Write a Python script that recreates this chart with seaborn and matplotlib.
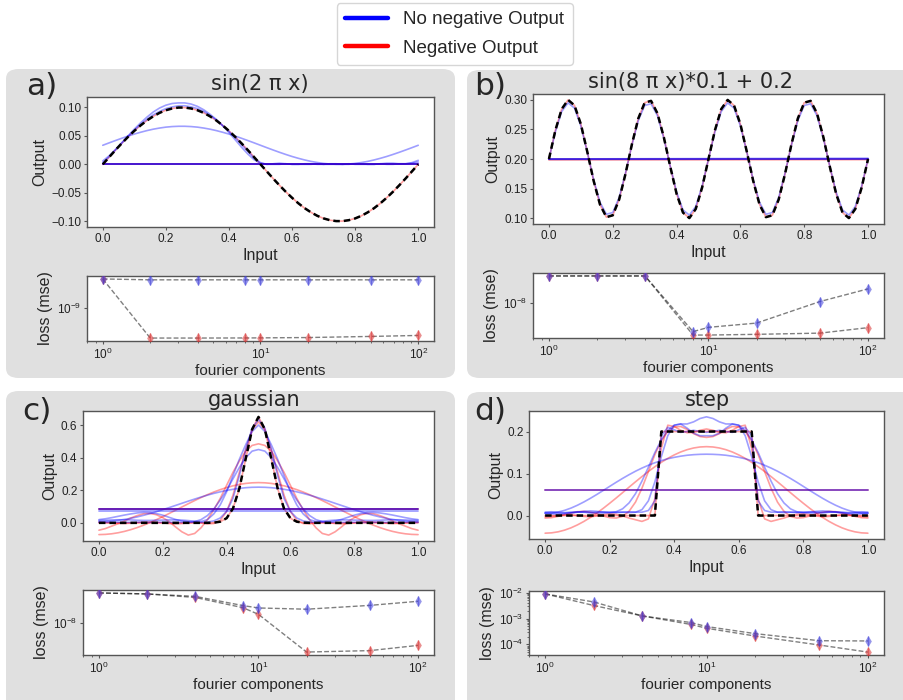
import numpy as np
import matplotlib
matplotlib.use("Agg")
import matplotlib.pyplot as plt
import seaborn as sns
from matplotlib.patches import FancyBboxPatch
from matplotlib.lines import Line2D
from matplotlib.ticker import NullLocator

# ---------------- data ----------------
x_grid = np.linspace(0, 1, 51)
x_flat = [0.0, 1.0]
components = [1, 2, 4, 8, 10, 20, 50, 100]

# panel a: sin(2 pi x)
a_target = [0.0, 0.0125, 0.0249, 0.0368, 0.0482, 0.0588, 0.0685, 0.0771, 0.0844, 0.0905, 0.0951, 0.0982, 0.0998,
            0.0998, 0.0982, 0.0951, 0.0905, 0.0844, 0.0771, 0.0685, 0.0588, 0.0482, 0.0368, 0.0249, 0.0125, 0.0,
            -0.0125, -0.0249, -0.0368, -0.0482, -0.0588, -0.0685, -0.0771, -0.0844, -0.0905, -0.0951, -0.0982, -0.0998,
            -0.0998, -0.0982, -0.0951, -0.0905, -0.0844, -0.0771, -0.0685, -0.0588, -0.0482, -0.0368, -0.0249, -0.0125, 0.0]
a_blue_k2 = [0.0335, 0.0377, 0.0418, 0.0458, 0.0496, 0.0532, 0.0564, 0.0593, 0.0618, 0.0638, 0.0654, 0.0664, 0.0669,
             0.0669, 0.0664, 0.0654, 0.0638, 0.0618, 0.0593, 0.0564, 0.0532, 0.0496, 0.0458, 0.0418, 0.0377, 0.0335,
             0.0293, 0.0252, 0.0212, 0.0174, 0.0138, 0.0106, 0.0077, 0.0052, 0.0032, 0.0016, 0.0006, 0.0001,
             0.0001, 0.0006, 0.0016, 0.0032, 0.0052, 0.0077, 0.0106, 0.0138, 0.0174, 0.0212, 0.0252, 0.0293, 0.0335]
a_blue_k8 = [0.006, 0.015, 0.026, 0.038, 0.050, 0.062, 0.073, 0.083, 0.092, 0.099, 0.104, 0.107, 0.108,
             0.108, 0.106, 0.102, 0.096, 0.088, 0.079, 0.068, 0.056, 0.043, 0.030, 0.018, 0.008, 0.002,
             0.0, 0.001, 0.002, 0.001, 0.0, 0.0, 0.001, 0.001, 0.0, 0.0, 0.001, 0.001, 0.0,
             0.0, 0.001, 0.001, 0.0, 0.0, 0.001, 0.002, 0.002, 0.001, 0.001, 0.003, 0.007]
a_blue_k16 = [0.003, 0.013, 0.025, 0.037, 0.049, 0.060, 0.070, 0.079, 0.087, 0.093, 0.098, 0.101, 0.103,
              0.103, 0.101, 0.098, 0.093, 0.086, 0.078, 0.068, 0.058, 0.047, 0.035, 0.023, 0.011, 0.003,
              0.0, 0.0, 0.0, 0.001, 0.0, 0.0, 0.0, 0.0, 0.001, 0.0, 0.0, 0.0, 0.0,
              0.001, 0.0, 0.0, 0.0, 0.0, 0.001, 0.0, 0.0, 0.001, 0.001, 0.002, 0.004]
a_blue_flat = [0.0, 0.0]
a_red_flat = [0.0, 0.0]

# panel b: sin(8 pi x)*0.1 + 0.2
b_target = [0.2, 0.2482, 0.2844, 0.2998, 0.2905, 0.2588, 0.2125, 0.1632, 0.1230, 0.1018, 0.1049, 0.1316, 0.1751,
            0.2249, 0.2685, 0.2951, 0.2982, 0.2771, 0.2368, 0.1875, 0.1412, 0.1095, 0.1002, 0.1156, 0.1518, 0.2,
            0.2482, 0.2844, 0.2998, 0.2905, 0.2588, 0.2125, 0.1632, 0.1230, 0.1018, 0.1049, 0.1316, 0.1751,
            0.2249, 0.2685, 0.2951, 0.2982, 0.2771, 0.2368, 0.1875, 0.1412, 0.1095, 0.1002, 0.1156, 0.1518, 0.2]
b_blue_k8 = [0.2, 0.2458, 0.2802, 0.2948, 0.2860, 0.2558, 0.2119, 0.1650, 0.1268, 0.1067, 0.1096, 0.1350, 0.1764,
             0.2236, 0.2650, 0.2904, 0.2933, 0.2732, 0.2350, 0.1881, 0.1442, 0.1140, 0.1052, 0.1198, 0.1542, 0.2,
             0.2458, 0.2802, 0.2948, 0.2860, 0.2558, 0.2119, 0.1650, 0.1268, 0.1067, 0.1096, 0.1350, 0.1764,
             0.2236, 0.2650, 0.2904, 0.2933, 0.2732, 0.2350, 0.1881, 0.1442, 0.1140, 0.1052, 0.1198, 0.1542, 0.2]
b_blue_flat1 = [0.2005, 0.2005]
b_blue_flat2 = [0.2000, 0.2012]
b_blue_flat3 = [0.1995, 0.2000]
b_red_flat1 = [0.1985, 0.1990]
b_red_flat2 = [0.2000, 0.2000]

# panel c: gaussian
c_target = [0.0, 0.0, 0.0, 0.0, 0.0, 0.0, 0.0, 0.0, 0.0, 0.0, 0.0, 0.0, 0.0, 0.0, 0.0, 0.0, 0.0,
            0.0002, 0.0014, 0.0072, 0.0285, 0.0880, 0.2110, 0.3943, 0.5736, 0.65, 0.5736, 0.3943, 0.2110,
            0.0880, 0.0285, 0.0072, 0.0014, 0.0002,
            0.0, 0.0, 0.0, 0.0, 0.0, 0.0, 0.0, 0.0, 0.0, 0.0, 0.0, 0.0, 0.0, 0.0, 0.0, 0.0, 0.0]
c_red_k2 = [-0.0720, -0.0707, -0.0670, -0.0608, -0.0523, -0.0415, -0.0288, -0.0142, 0.0020, 0.0196, 0.0382, 0.0576,
            0.0775, 0.0975, 0.1174, 0.1368, 0.1554, 0.1730, 0.1892, 0.2038, 0.2165, 0.2273, 0.2358, 0.2420, 0.2457,
            0.2470,
            0.2457, 0.2420, 0.2358, 0.2273, 0.2165, 0.2038, 0.1892, 0.1730, 0.1554, 0.1368, 0.1174, 0.0975, 0.0775,
            0.0576, 0.0382, 0.0196, 0.0020, -0.0142, -0.0288, -0.0415, -0.0523, -0.0608, -0.0670, -0.0707, -0.0720]
c_blue_k2 = [0.0080, 0.0088, 0.0113, 0.0154, 0.0211, 0.0282, 0.0366, 0.0463, 0.0570, 0.0686, 0.0809, 0.0937,
             0.1069, 0.1201, 0.1333, 0.1461, 0.1584, 0.1700, 0.1807, 0.1904, 0.1988, 0.2059, 0.2116, 0.2157, 0.2182,
             0.2190,
             0.2182, 0.2157, 0.2116, 0.2059, 0.1988, 0.1904, 0.1807, 0.1700, 0.1584, 0.1461, 0.1333, 0.1201, 0.1069,
             0.0937, 0.0809, 0.0686, 0.0570, 0.0463, 0.0366, 0.0282, 0.0211, 0.0154, 0.0113, 0.0088, 0.0080]
c_red_k4 = [-0.045, -0.035, -0.020, -0.005, 0.012, 0.030, 0.045, 0.056, 0.058, 0.050, 0.032, 0.008, -0.025,
            -0.055, -0.075, -0.065, -0.030, 0.020, 0.080, 0.150, 0.230, 0.310, 0.380, 0.440, 0.475, 0.485,
            0.475, 0.440, 0.380, 0.310, 0.230, 0.150, 0.080, 0.020, -0.030, -0.065, -0.075, -0.055, -0.025,
            0.008, 0.032, 0.050, 0.058, 0.056, 0.045, 0.030, 0.012, -0.005, -0.020, -0.035, -0.045]
c_blue_k4 = [0.020, 0.025, 0.032, 0.040, 0.048, 0.055, 0.061, 0.064, 0.063, 0.057, 0.047, 0.034, 0.021,
             0.011, 0.006, 0.008, 0.020, 0.045, 0.085, 0.140, 0.200, 0.270, 0.340, 0.400, 0.440, 0.450,
             0.440, 0.400, 0.340, 0.270, 0.200, 0.140, 0.085, 0.045, 0.020, 0.008, 0.006, 0.011, 0.021,
             0.034, 0.047, 0.057, 0.063, 0.064, 0.061, 0.055, 0.048, 0.040, 0.032, 0.025, 0.020]
c_red_k8 = [0.004, 0.003, 0.000, -0.003, -0.004, -0.002, 0.002, 0.005, 0.006, 0.004, 0.000, -0.004, -0.006,
            -0.004, 0.000, 0.003, 0.000, -0.006, -0.004, 0.015, 0.070, 0.170, 0.310, 0.450, 0.570, 0.620,
            0.570, 0.450, 0.310, 0.170, 0.070, 0.015, -0.004, -0.006, 0.000, 0.003, 0.000, -0.004, -0.006,
            -0.004, 0.000, 0.004, 0.006, 0.005, 0.002, -0.002, -0.004, -0.003, 0.000, 0.003, 0.004]
c_blue_k8 = [0.015, 0.016, 0.018, 0.019, 0.019, 0.018, 0.016, 0.015, 0.015, 0.016, 0.017, 0.018, 0.018,
             0.017, 0.014, 0.010, 0.008, 0.020, 0.055, 0.110, 0.190, 0.290, 0.390, 0.480, 0.560, 0.600,
             0.560, 0.480, 0.390, 0.290, 0.190, 0.110, 0.055, 0.020, 0.008, 0.010, 0.014, 0.017, 0.018,
             0.018, 0.017, 0.016, 0.015, 0.015, 0.016, 0.018, 0.019, 0.019, 0.018, 0.016, 0.015]
c_blue_k16 = [0.003, 0.003, 0.004, 0.004, 0.003, 0.003, 0.004, 0.004, 0.003, 0.003, 0.004, 0.004, 0.003,
              0.003, 0.004, 0.004, 0.003, 0.005, 0.012, 0.030, 0.070, 0.150, 0.290, 0.450, 0.580, 0.635,
              0.580, 0.450, 0.290, 0.150, 0.070, 0.030, 0.012, 0.005, 0.003, 0.004, 0.004, 0.003, 0.003,
              0.004, 0.004, 0.003, 0.003, 0.004, 0.004, 0.003, 0.003, 0.004, 0.004, 0.003, 0.003]
c_blue_flat1 = [0.085, 0.085]
c_blue_flat2 = [0.073, 0.073]
c_red_flat = [0.085, 0.085]

# panel d: step
d_target = [0.0] * 18 + [0.2] * 15 + [0.0] * 18
d_red_k2 = [-0.0420, -0.0412, -0.0388, -0.0348, -0.0293, -0.0223, -0.0141, -0.0047, 0.0058, 0.0171, 0.0292, 0.0417,
            0.0545, 0.0675, 0.0803, 0.0928, 0.1049, 0.1162, 0.1267, 0.1361, 0.1443, 0.1513, 0.1568, 0.1608, 0.1632,
            0.1640,
            0.1632, 0.1608, 0.1568, 0.1513, 0.1443, 0.1361, 0.1267, 0.1162, 0.1049, 0.0928, 0.0803, 0.0675, 0.0545,
            0.0417, 0.0292, 0.0171, 0.0058, -0.0047, -0.0141, -0.0223, -0.0293, -0.0348, -0.0388, -0.0412, -0.0420]
d_blue_k2 = [0.0050, 0.0059, 0.0083, 0.0123, 0.0177, 0.0245, 0.0323, 0.0409, 0.0501, 0.0597, 0.0694, 0.0791,
             0.0884, 0.0972, 0.1055, 0.1130, 0.1197, 0.1257, 0.1307, 0.1351, 0.1385, 0.1413, 0.1435, 0.1449, 0.1457,
             0.1460,
             0.1457, 0.1449, 0.1435, 0.1413, 0.1385, 0.1351, 0.1307, 0.1257, 0.1197, 0.1130, 0.1055, 0.0972, 0.0884,
             0.0791, 0.0694, 0.0597, 0.0501, 0.0409, 0.0323, 0.0245, 0.0177, 0.0123, 0.0083, 0.0059, 0.0050]
d_blue_k4 = [0.005, 0.004, 0.003, 0.004, 0.006, 0.008, 0.010, 0.011, 0.010, 0.008, 0.007, 0.009, 0.016,
             0.030, 0.052, 0.082, 0.115, 0.150, 0.180, 0.203, 0.215, 0.218, 0.218, 0.223, 0.231, 0.235,
             0.231, 0.223, 0.218, 0.218, 0.215, 0.203, 0.180, 0.150, 0.115, 0.082, 0.052, 0.030, 0.016,
             0.009, 0.007, 0.008, 0.010, 0.011, 0.010, 0.008, 0.006, 0.004, 0.003, 0.004, 0.005]
d_red_k4 = [-0.006, -0.005, -0.002, 0.002, 0.006, 0.009, 0.010, 0.008, 0.004, -0.001, -0.005, -0.006, -0.002,
            0.010, 0.032, 0.065, 0.105, 0.145, 0.178, 0.200, 0.211, 0.212, 0.205, 0.195, 0.188, 0.186,
            0.188, 0.195, 0.205, 0.212, 0.211, 0.200, 0.178, 0.145, 0.105, 0.065, 0.032, 0.010, -0.002,
            -0.006, -0.005, -0.001, 0.004, 0.008, 0.010, 0.009, 0.006, 0.002, -0.002, -0.005, -0.006]
d_blue_k8 = [0.007, 0.007, 0.006, 0.006, 0.007, 0.008, 0.008, 0.007, 0.006, 0.006, 0.007, 0.008, 0.008,
             0.007, 0.008, 0.014, 0.035, 0.080, 0.140, 0.190, 0.215, 0.218, 0.208, 0.196, 0.190, 0.190,
             0.190, 0.196, 0.208, 0.218, 0.215, 0.190, 0.140, 0.080, 0.035, 0.014, 0.008, 0.007, 0.008,
             0.008, 0.007, 0.006, 0.006, 0.007, 0.008, 0.008, 0.007, 0.006, 0.006, 0.007, 0.007]
d_red_k8 = [-0.003, -0.002, 0.000, 0.002, 0.002, 0.000, -0.002, -0.003, -0.001, 0.002, 0.004, 0.003, -0.001,
            -0.006, -0.010, -0.014, -0.008, 0.040, 0.160, 0.215, 0.212, 0.203, 0.197, 0.198, 0.203, 0.206,
            0.203, 0.198, 0.197, 0.203, 0.212, 0.215, 0.160, 0.040, -0.008, -0.014, -0.010, -0.006, -0.001,
            0.003, 0.004, 0.002, -0.001, -0.003, -0.002, 0.000, 0.002, 0.002, 0.000, -0.002, -0.003]
d_blue_k16 = [0.008, 0.009, 0.008, 0.007, 0.008, 0.009, 0.008, 0.007, 0.008, 0.009, 0.008, 0.007, 0.008,
              0.009, 0.008, 0.008, 0.012, 0.035, 0.190, 0.210, 0.204, 0.198, 0.200, 0.203, 0.200, 0.198,
              0.200, 0.203, 0.200, 0.198, 0.204, 0.210, 0.190, 0.035, 0.012, 0.008, 0.008, 0.009, 0.008,
              0.007, 0.008, 0.009, 0.008, 0.007, 0.008, 0.009, 0.008, 0.007, 0.008, 0.009, 0.008]
d_blue_flat = [0.06, 0.06]
d_red_flat = [0.06, 0.06]

# losses (mse) vs number of fourier components
a_loss_blue = [1.97e-9, 1.93e-9, 1.93e-9, 1.93e-9, 1.93e-9, 1.93e-9, 1.93e-9, 1.93e-9]
a_loss_red = [1.97e-9, 4.96e-10, 4.96e-10, 4.97e-10, 4.98e-10, 5.02e-10, 5.15e-10, 5.27e-10]
b_loss_blue = [1.97e-8, 1.97e-8, 1.97e-8, 4.8e-9, 5.35e-9, 5.96e-9, 1.03e-8, 1.42e-8]
b_loss_red = [1.97e-8, 1.97e-8, 1.97e-8, 4.4e-9, 4.4e-9, 4.48e-9, 4.62e-9, 5.31e-9]
c_loss_blue = [2.26e-8, 2.2e-8, 2.06e-8, 1.6e-8, 1.5e-8, 1.45e-8, 1.61e-8, 1.8e-8]
c_loss_red = [2.26e-8, 2.2e-8, 2.0e-8, 1.51e-8, 1.26e-8, 4.5e-9, 4.68e-9, 5.4e-9]
d_loss_blue = [9.0e-3, 4.4e-3, 1.26e-3, 7.0e-4, 4.9e-4, 2.6e-4, 1.38e-4, 1.35e-4]
d_loss_red = [9.0e-3, 3.2e-3, 1.26e-3, 5.9e-4, 4.2e-4, 2.1e-4, 9.4e-5, 5.0e-5]

panel_letters = ["a)", "b)", "c)", "d)"]
panel_titles = ["sin(2 π x)", "sin(8 π x)*0.1 + 0.2", "gaussian", "step"]
legend_labels = ["No negative Output", "Negative Output"]

# ---------------- style ----------------
sns.set_style("ticks")
plt.rcParams.update({
    "font.family": ["Liberation Sans", "DejaVu Sans"],
    "mathtext.fontset": "custom",
    "mathtext.rm": "Liberation Sans",
    "mathtext.it": "Liberation Sans:italic",
    "mathtext.bf": "Liberation Sans:bold",
    "axes.edgecolor": "#555555",
    "axes.linewidth": 1.0,
    "xtick.color": "#555555",
    "ytick.color": "#555555",
    "xtick.labelcolor": "#222222",
    "ytick.labelcolor": "#222222",
    "xtick.labelsize": 8.5,
    "ytick.labelsize": 8.5,
    "xtick.major.size": 2.5,
    "ytick.major.size": 2.5,
    "xtick.minor.size": 1.5,
    "ytick.minor.size": 1.5,
    "xtick.major.pad": 2.0,
    "ytick.major.pad": 1.5,
})

W, H = 904, 700
fig = plt.figure(figsize=(W / 100, H / 100), dpi=100)


def fbox(x0, y0, x1, y1):
    return [x0 / W, 1 - y1 / H, (x1 - x0) / W, (y1 - y0) / H]


# gray panel backgrounds
for (x0, y0, x1, y1) in [(6, 69, 455, 378), (467, 70, 915, 378), (6, 391, 455, 712), (467, 392, 915, 712)]:
    p = FancyBboxPatch((x0 / W, 1 - y1 / H), (x1 - x0) / W, (y1 - y0) / H,
                       boxstyle="round,pad=0,rounding_size=0.014", transform=fig.transFigure,
                       facecolor="#e0e0e0", edgecolor="none", zorder=-5)
    fig.patches.append(p)

main_boxes = [(87, 97, 434, 227), (533, 94, 884, 224), (83, 411, 434, 541), (529, 411, 884, 539)]
loss_boxes = [(87, 276, 434, 341), (533, 273, 884, 338), (83, 590, 434, 655), (529, 591, 884, 655)]

BLUE = (0, 0, 1)
RED = (1, 0, 0)
FA = 0.38      # fit alpha
FIT_LW = 1.2

# flats: (values, colour, alpha)
main_specs = [
    dict(target=a_target, reds=[a_target], blues=[a_blue_k2, a_blue_k8, a_blue_k16],
         flats=[(a_red_flat, RED, 0.7), (a_blue_flat, BLUE, 0.6), (a_blue_flat, BLUE, 0.4)]),
    dict(target=b_target, reds=[b_target], blues=[b_blue_k8],
         flats=[(b_red_flat1, RED, FA), (b_red_flat2, RED, FA), (b_blue_flat1, BLUE, FA),
                (b_blue_flat2, BLUE, FA), (b_blue_flat3, BLUE, FA)]),
    dict(target=c_target, reds=[c_red_k2, c_red_k4, c_red_k8, c_target],
         blues=[c_blue_k2, c_blue_k4, c_blue_k8, c_blue_k16],
         flats=[(c_red_flat, RED, 0.75), (c_blue_flat1, BLUE, 0.65), (c_blue_flat2, BLUE, FA)]),
    dict(target=d_target, reds=[d_red_k2, d_red_k4, d_red_k8, d_target],
         blues=[d_blue_k2, d_blue_k4, d_blue_k8, d_blue_k16],
         flats=[(d_red_flat, RED, 0.5), (d_blue_flat, BLUE, 0.5)]),
]
loss_specs = [(a_loss_blue, a_loss_red, [1e-9]), (b_loss_blue, b_loss_red, [1e-8]),
              (c_loss_blue, c_loss_red, [1e-8]), (d_loss_blue, d_loss_red, None)]

for i in range(4):
    spec = main_specs[i]
    ax = fig.add_axes(fbox(*main_boxes[i]))
    ax.set_facecolor("white")
    for y in spec["reds"]:
        sns.lineplot(x=x_grid, y=y, ax=ax, color=RED, alpha=FA, lw=FIT_LW)
    for y in spec["blues"]:
        sns.lineplot(x=x_grid, y=y, ax=ax, color=BLUE, alpha=FA, lw=FIT_LW)
    for (y, col, al) in spec["flats"]:
        sns.lineplot(x=x_flat, y=y, ax=ax, color=col, alpha=al, lw=1.3)
    sns.lineplot(x=x_grid, y=spec["target"], ax=ax, color="black", lw=1.8, linestyle=(0, (2.6, 1.6)))
    ax.set_xlabel("Input", fontsize=11.5, labelpad=2)
    ax.set_ylabel("Output", fontsize=11.5, labelpad=3)
    ax.set_xticks([0.0, 0.2, 0.4, 0.6, 0.8, 1.0])

    lb, lr, yt = loss_specs[i]
    axl = fig.add_axes(fbox(*loss_boxes[i]))
    axl.set_facecolor("white")
    axl.set_xscale("log")
    axl.set_yscale("log")
    sns.lineplot(x=components, y=lr, ax=axl, color="black", alpha=0.5, lw=1.0, linestyle=(0, (3.5, 1.6)))
    sns.lineplot(x=components, y=lb, ax=axl, color="black", alpha=0.5, lw=1.0, linestyle=(0, (3.5, 1.6)))
    for yy, col in [(lr, (0.85, 0.2, 0.2)), (lb, (0.25, 0.25, 0.85))]:
        sns.scatterplot(x=components, y=yy, ax=axl, marker="d", color=col, alpha=0.55, s=32,
                        linewidth=0, zorder=3)
        sns.scatterplot(x=components, y=yy, ax=axl, marker="|", color=col, alpha=0.55, s=55,
                        linewidth=1.0, zorder=3)
    if yt is not None:
        axl.set_yticks(yt)
        axl.yaxis.set_minor_locator(NullLocator())
    axl.set_xlabel("fourier components", fontsize=11, labelpad=1)
    axl.set_ylabel("loss (mse)", fontsize=11.5, labelpad=3)

# titles and panel letters
title_pos = [(260, 90), (691, 88), (254, 406), (707, 406.5)]
letter_pos = [(26, 95), (474, 95), (22, 420), (474, 420)]
for i in range(4):
    tx, ty = title_pos[i]
    fig.text(tx / W, 1 - ty / H, panel_titles[i], ha="center", va="baseline", fontsize=15,
             family=["DejaVu Sans"])
    lx, ly = letter_pos[i]
    fig.text(lx / W, 1 - ly / H, panel_letters[i], ha="left", va="baseline", fontsize=22.5,
             family=["DejaVu Sans"])

handles = [Line2D([], [], color=BLUE, lw=3.2), Line2D([], [], color=RED, lw=3.2)]
fig.legend(handles, legend_labels, loc="upper center", bbox_to_anchor=(0.503, 0.996), fontsize=13.5,
           frameon=True, fancybox=True, edgecolor="#cccccc", handlelength=2.3, labelspacing=0.6,
           borderpad=0.45, borderaxespad=0.0)

fig.savefig("out.png", dpi=100)
